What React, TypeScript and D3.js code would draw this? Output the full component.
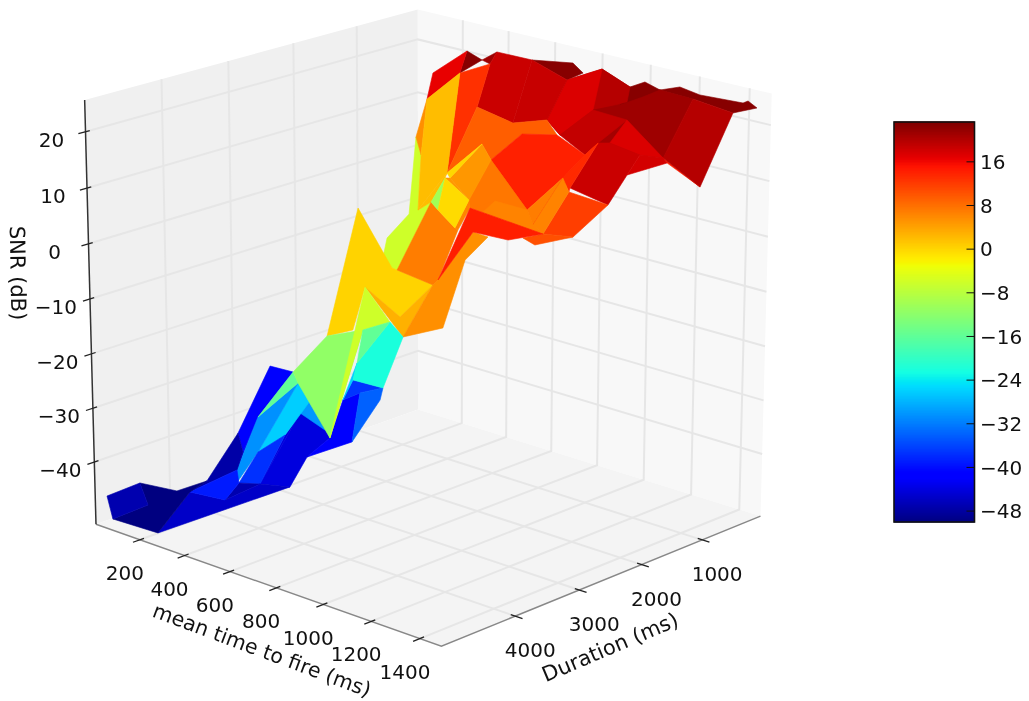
import { line, range, scaleLinear } from "d3";

const width = 1029;
const height = 701;

// surface nodes, index aligned
const meanTime = [
  -31, -41, 88, 97, 63, 137, 204, 289, 439, 418, 471, 379, 501, -40, 135, 451, 332, 42, 321, 387, 436,
  592, 581, -326, 521, 1430, 233, 297, 532, 531, 533, 480, 666, 835, 1476, 902, 975, 429, 931, 1172, 1308,
  923, 1029, 1577, 1415, 1108, 1163, 1229, 994, 392, 854, 507, 243, 665, 499, 355, 622, -238, 172, 381, 524,
  396, 270, -10, -61, 536, 140, 216, 415, 295, 201, 347, 488, 640, 686, 696, 651, 754, 681, 934, 880,
  928, 993, 966, 1061, 1033, 1041, 1126, 1147, 1123, 1203, 1287, 1437, 1173, 1325, 1360, 1396, 1403, 1402, 1675, 1355,
  1084, 1230, 1386, 1383, 1453, 662, 750, 1221, 930, 844, 1258, 1340, 1020, 1117, 1189, 1501, 1361, 1395, 1381, 1252,
  794,
];
const duration = [
  4846, 4319, 4622, 5176, 4103, 3890, 4372, 5139, 4633, 4031, 3759, 4244, 4630, 2803, 3323, 4168, 3344, 2101, 2686, 3199, 4110,
  4038, 4073, 1304, 3612, 6514, 2086, 2041, 3009, 2515, 2569, 2802, 3400, 3502, 5636, 4152, 4941, 2526, 3816, 4083, 5067,
  4192, 4754, 5435, 4906, 3209, 3219, 3813, 3969, 1236, 2523, 1551, 458, 1643, 1327, 270, 1130, -829, 589, 1406, 2481,
  1955, 1144, -178, -917, 1514, 277, 0, 501, -197, -438, 323, -42, 848, 145, 508, -86, 148, -456, 688, 1010,
  60, 367, -34, 99, 267, 673, 898, 1443, 1556, 131, 572, 1562, 1357, 1481, 2718, 1968, 2291, 1353, 1941, 92,
  -138, 128, 58, -38, 107, 782, 552, 2840, 2229, 2298, 2890, 3051, 2756, 1881, 2065, 3216, 3440, 3387, 3740, 3781,
  2347,
];
const snr = [
  -48, -48, -49, -49, -49, -47, -46, -49, -43, -43, -44, -40, -39, -45, -44, -36, -38, -43, -40, -42, -30,
  -22, -20, -42, -28, -10, -38, -36, -38, -30, -32, -28, -20, -10, 4, -8, -5, 2, 2, 3, 3,
  0, -4, 6, 10, 8, 8, 7, 3, -2, 3, -1, -2, 3, 4, 5, 8, -4, 2, -3, -6,
  -6, -6, 8, 10, 6, 16, 20, 22, 20, 16, 12, 21, 14, 20, 14, 22, 22, 20, 19, 15,
  21, 20, 22, 22, 21, 21, 20, 18, 16, 22, 21, 19, 18, 18, 17, 17, 13, 17, 18, 21,
  22, 23, 23, 23, 23, 12, 12, 12, 8, 6, 10, 10, 9, 13, 12, 12, 11, 10, 12, 12,
  2,
];

// facets in painting order, with the SNR their colour stands for
const facets = [
  [74, 78, 81, 84, 90, 92, 94, 88, 80, 75],
  [84, 101, 102, 103, 104, 105, 100, 90], [81, 83, 84, 85, 86], [67, 68, 64], [68, 69, 70], [72, 76, 77, 74],
  [78, 81, 82, 79], [74, 78, 79, 80, 75], [72, 74, 75, 73], [70, 69, 72, 73, 71], [79, 86, 87], [86, 85, 84, 87],
  [80, 79, 87, 88, 89], [87, 84, 90, 92], [92, 98, 99], [92, 90, 100, 99], [93, 87, 92, 94],
  [95, 88, 93, 94, 96, 97], [96, 94, 92, 98], [66, 67, 64, 63], [64, 70, 71, 65],
  [71, 73, 75, 107, 106, 56, 55, 65], [89, 88, 95, 115, 114], [56, 53, 110, 112, 111, 108],
  [56, 106, 107, 89, 114, 108], [108, 114, 111], [89, 88, 111, 114],
  [115, 97, 116, 112], [114, 115, 112, 111], [117, 112, 116, 118], [56, 108, 109, 110, 53],
  [109, 108, 111, 112, 113], [52, 53, 54], [54, 55, 56, 53], [65, 55, 54], [57, 58, 59, 49, 48, 38, 60, 61, 62], [63, 57, 58],
  [59, 65, 52, 49], [63, 64, 65, 59, 58], [36, 37, 38, 48, 39, 40, 41, 42], [41, 40, 39, 34], [48, 49, 51, 121, 50, 44, 39],
  [53, 110, 50, 121], [52, 51, 49], [52, 53, 121, 51], [34, 39, 44, 120, 46, 47, 43], [110, 112, 119, 120, 44],
  [17, 24, 25, 19], [9, 16, 24, 17], [14, 20, 8, 11],
  [13, 23, 22, 20, 14], [19, 25, 26, 27, 28], [9, 17, 18, 19, 10], [17, 24, 18], [15, 21, 24, 16], [8, 20, 21, 15],
  [12, 15, 16, 9], [8, 12, 9], [5, 13, 14, 11, 6], [7, 6, 8, 9, 10], [6, 11, 12, 8], [1, 4, 5, 6, 7, 3, 2],
  [0, 1, 2, 3], [20, 22, 21], [22, 36, 35, 25, 21], [25, 41, 33, 35], [26, 31, 29, 27], [28, 27, 29, 30],
  [26, 32, 31], [31, 32, 33, 34, 29], [32, 35, 33],
];
const facetSnr = [
  21,
  22.8, 22.8, 22.8, 21.4, 22.8,
  19.9, 17.5, 18.8, 18.6, 21.4, 21.4,
  19, 21.4, 14.4, 19.9, 17.5,
  18.6, 18, 16.7, 13,
  9.4, 13.5, 7.5,
  14.2, 7, 13.5,
  11.9, 6.5, 10.5, 7.5,
  6.5, 5, 5, 0, -6, 5.6,
  2, 2, 0.3, 3, 7,
  6.5, -10, -0.3, 5.6, 14.4,
  -44, -44, -44,
  -42, -42, -44, -30, -26, -30.4,
  -37.4, -47, -47.5, -45.4, -39, -50,
  -47, -15.7, -11.4, -6, -37, -33.9,
  -26, -22, -15.7,
];

const meanTimeTicks = [200, 400, 600, 800, 1000, 1200, 1400];
const durationTicks = [1000, 2000, 3000, 4000];
const snrTicks = [20, 10, 0, -10, -20, -30, -40];
const colorbarTicks = [16, 8, 0, -8, -16, -24, -32, -40, -48];

const xLim = [0, 1487];
const yLim = [11, 5118];
const zLim = [-51.66, 25.6];
const cLim = [-50, 23.3];

// unit box, duration runs towards the viewer
const xs = scaleLinear().domain(xLim).range([-0.5, 0.5]);
const ys = scaleLinear().domain(yLim).range([0.5, -0.5]);
const zs = scaleLinear().domain(zLim).range([-0.5, 0.5]);

const azim = (43 * Math.PI) / 180;
const elev = (19.5 * Math.PI) / 180;
const dist = 10;

const toPxX = scaleLinear().domain([-1, 1]).range([429 - 4780, 429 + 4780]);
const toPxY = scaleLinear().domain([-1, 1]).range([312 + 4490, 312 - 4490]);

function project(x: number, y: number, z: number): [number, number] {
  const X = xs(x);
  const Y = ys(y);
  const Z = zs(z);
  const a = Math.cos(azim) * X + Math.sin(azim) * Y;
  const c = Math.sin(azim) * X - Math.cos(azim) * Y;
  const d = dist - Math.cos(elev) * c - Math.sin(elev) * Z;
  return [toPxX(a / d), toPxY((-Math.sin(elev) * c + Math.cos(elev) * Z) / d)];
}

// matplotlib's jet
const jetR = scaleLinear().domain([0, 0.35, 0.66, 0.89, 1]).range([0, 0, 1, 1, 0.5]);
const jetG = scaleLinear().domain([0, 0.125, 0.375, 0.64, 0.91, 1]).range([0, 0, 1, 1, 0, 0]);
const jetB = scaleLinear().domain([0, 0.11, 0.34, 0.65, 1]).range([0.5, 1, 1, 0, 0]);
const cNorm = scaleLinear().domain(cLim).range([0, 1]).clamp(true);
const jet = (v: number) => {
  const t = cNorm(v);
  return `rgb(${Math.round(jetR(t) * 255)},${Math.round(jetG(t) * 255)},${Math.round(jetB(t) * 255)})`;
};

const path = line();
const seg = (pts: number[][]) => path(pts.map((p) => project(p[0], p[1], p[2])));
const poly = (pts: number[][]) => seg(pts) + "Z";

const [x0, x1] = xLim;
const [y0, y1] = yLim;
const [z0, z1] = zLim;
const xSpan = x1 - x0;
const ySpan = y1 - y0;

const font = "DejaVu Sans, sans-serif";
const minus = (v: number) => String(v).replace("-", "\u2212");

const cbLeft = 894;
const cbRight = 974.5;
const cbTop = 122;
const cbBottom = 522;
const cbY = scaleLinear().domain(cLim).range([cbBottom, cbTop]);
const cbSteps = range(cLim[0], cLim[1], (cLim[1] - cLim[0]) / 256);

export default function App() {
  return (
    <svg
      width={width}
      height={height}
      style={{ position: "absolute", left: 0, top: 0, filter: "blur(0.4px)" }}
      fontFamily={font}
      fontSize={20}
      fill="#111"
    >
      <rect width={width} height={height} fill="#fff" />

      {/* panes */}
      <path d={poly([[x0, y1, z0], [x0, y0, z0], [x0, y0, z1], [x0, y1, z1]])} fill="#f0f0f0" />
      <path d={poly([[x0, y0, z0], [x1, y0, z0], [x1, y0, z1], [x0, y0, z1]])} fill="#f8f8f8" />
      <path d={poly([[x0, y1, z0], [x1, y1, z0], [x1, y0, z0], [x0, y0, z0]])} fill="#f4f4f4" />

      {/* grid */}
      <g fill="none" stroke="#e6e6e6" strokeWidth={2}>
        {meanTimeTicks.map((t) => (
          <path key={t} d={seg([[t, y1, z0], [t, y0, z0], [t, y0, z1]])} />
        ))}
        {durationTicks.map((t) => (
          <path key={t} d={seg([[x1, t, z0], [x0, t, z0], [x0, t, z1]])} />
        ))}
        {snrTicks.map((t) => (
          <path key={t} d={seg([[x0, y1, t], [x0, y0, t], [x1, y0, t]])} />
        ))}
      </g>

      {/* axis lines */}
      <path d={seg([[x0, y1, z0], [x1, y1, z0], [x1, y0, z0]])} fill="none" stroke="#888" strokeWidth={1.4} />
      <path d={seg([[x0, y1, z0], [x0, y1, z1]])} fill="none" stroke="#333" strokeWidth={1.5} />

      {/* surface */}
      {facets.map((f, i) => {
        const c = jet(facetSnr[i]);
        return (
          <path
            key={i}
            d={poly(f.map((n) => [meanTime[n], duration[n], snr[n]]))}
            fill={c}
            stroke={c}
            strokeWidth={0.6}
            strokeLinejoin="round"
          />
        );
      })}

      {/* ticks and labels */}
      <g stroke="#222" strokeWidth={1.3} fill="none">
        {meanTimeTicks.map((t) => (
          <path key={t} d={seg([[t, y1 + 0.02 * ySpan, z0], [t, y1 - 0.012 * ySpan, z0]])} />
        ))}
        {durationTicks.map((t) => (
          <path key={t} d={seg([[x1 + 0.02 * xSpan, t, z0], [x1 - 0.012 * xSpan, t, z0]])} />
        ))}
        {snrTicks.map((t) => (
          <path key={t} d={seg([[x0, y1 + 0.02 * ySpan, t], [x0, y1 - 0.012 * ySpan, t]])} />
        ))}
      </g>
      <g textAnchor="middle">
        {meanTimeTicks.map((t) => {
          const [px, py] = project(t, y1, z0);
          return (
            <text key={t} x={px - 15} y={py + 40}>
              {t}
            </text>
          );
        })}
        {durationTicks.map((t) => {
          const [px, py] = project(x1, t, z0);
          return (
            <text key={t} x={px + 15} y={py + 41}>
              {t}
            </text>
          );
        })}
        {snrTicks.map((t) => {
          const [px, py] = project(x0, y1, t);
          return (
            <text key={t} x={px - 34} y={py + 15}>
              {minus(t)}
            </text>
          );
        })}
      </g>
      <g fontSize={21}>
        <text transform="translate(262,650) rotate(20.5)" textAnchor="middle" dy="0.35em" fontSize={20.5}>
          mean time to fire (ms)
        </text>
        <text transform="translate(610,647) rotate(-23)" textAnchor="middle" dy="0.35em">
          Duration (ms)
        </text>
        <text transform="translate(18,273) rotate(89)" textAnchor="middle" dy="0.35em">
          SNR (dB)
        </text>
      </g>

      {/* colour bar */}
      {cbSteps.map((v) => (
        <rect
          key={v}
          x={cbLeft}
          y={cbY(v + (cLim[1] - cLim[0]) / 256) - 0.5}
          width={cbRight - cbLeft}
          height={(cbBottom - cbTop) / 256 + 1}
          fill={jet(v + (cLim[1] - cLim[0]) / 512)}
        />
      ))}
      <rect x={cbLeft} y={cbTop} width={cbRight - cbLeft} height={cbBottom - cbTop} fill="none" stroke="#111" strokeWidth={1.6} />
      {colorbarTicks.map((t) => (
        <g key={t}>
          <line x1={cbRight - 8} x2={cbRight} y1={cbY(t)} y2={cbY(t)} stroke="#111" strokeWidth={1} />
          <text x={980} y={cbY(t)} dy="0.36em">
            {minus(t)}
          </text>
        </g>
      ))}
    </svg>
  );
}
